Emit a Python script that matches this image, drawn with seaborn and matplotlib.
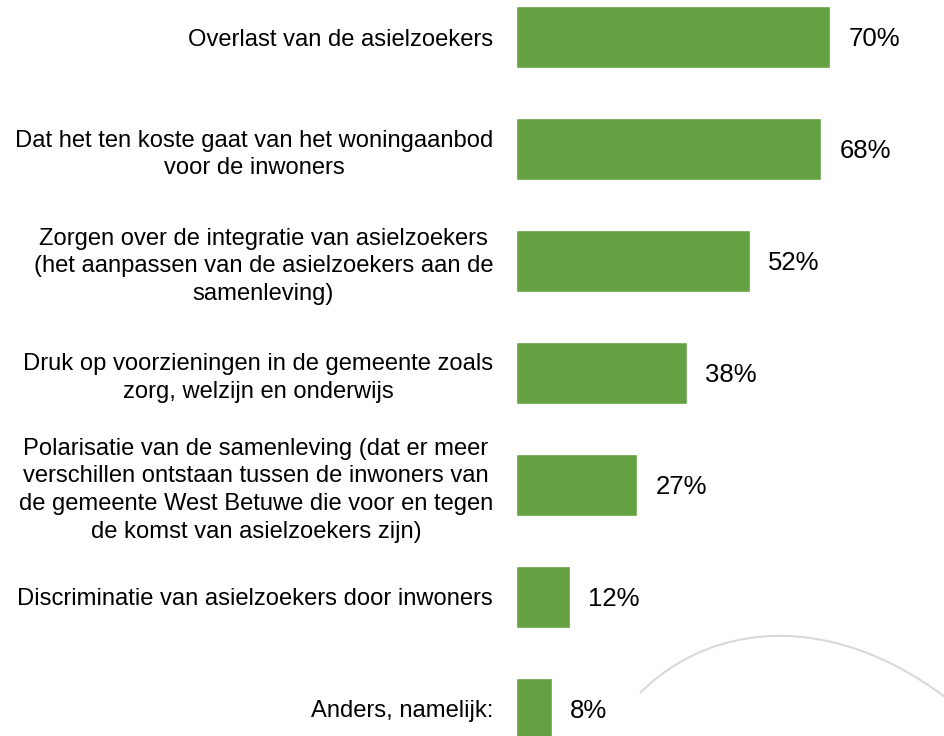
import matplotlib
matplotlib.use("Agg")
import matplotlib.pyplot as plt
import seaborn as sns
import pandas as pd
from matplotlib.path import Path
from matplotlib.patches import PathPatch

categories = [
    "Overlast van de asielzoekers",
    "Dat het ten koste gaat van het woningaanbod\nvoor de inwoners",
    "Zorgen over de integratie van asielzoekers\n(het aanpassen van de asielzoekers aan de\nsamenleving)",
    "Druk op voorzieningen in de gemeente zoals\nzorg, welzijn en onderwijs",
    "Polarisatie van de samenleving (dat er meer\nverschillen ontstaan tussen de inwoners van\nde gemeente West Betuwe die voor en tegen\nde komst van asielzoekers zijn)",
    "Discriminatie van asielzoekers door inwoners",
    "Anders, namelijk:",
]
values = [70, 68, 52, 38, 27, 12, 8]

sns.set_theme(style="white")
plt.rcParams["font.family"] = ["Liberation Sans", "DejaVu Sans"]

df = pd.DataFrame({"cat": categories, "val": values})

fig = plt.figure(figsize=(9.45, 7.36), dpi=100)
ax = fig.add_axes([516 / 945, 0, 1 - 516 / 945, 1])

sns.barplot(data=df, x="val", y="cat", orient="h", color="#63A143",
            saturation=1, width=0.55, ax=ax)

ax.set_xlim(0, 95.5)
ax.set_ylim(6 + (736 - 709) / 112, -37 / 112)
ax.set_xlabel("")
ax.set_ylabel("")
ax.set_xticks([])
for s in ax.spines.values():
    s.set_visible(False)
ax.tick_params(axis="y", length=0, pad=16.5, labelsize=17.15, labelcolor="#000000")
for t in ax.get_yticklabels():
    t.set_multialignment("center")
    t.set_linespacing(1.34)

anns = ax.bar_label(ax.containers[0], labels=[f"{v}%" for v in values],
                    padding=13, fontsize=18.5, color="#000000")
for a in anns:
    a.xyann = (13, -1.2)

# decorative grey arc (figure pixel coordinates, y measured from top)
pts = [(640, 693), (710, 623), (828.3, 609.5), (945, 697)]
verts = [(x / 100, (736 - y) / 100) for x, y in pts]
arc = PathPatch(Path(verts, [Path.MOVETO, Path.CURVE4, Path.CURVE4, Path.CURVE4]),
                transform=fig.dpi_scale_trans, fill=False, edgecolor="#D9D9D9",
                lw=1.5, clip_on=False)
fig.add_artist(arc)

fig.savefig("out.png", dpi=100)
